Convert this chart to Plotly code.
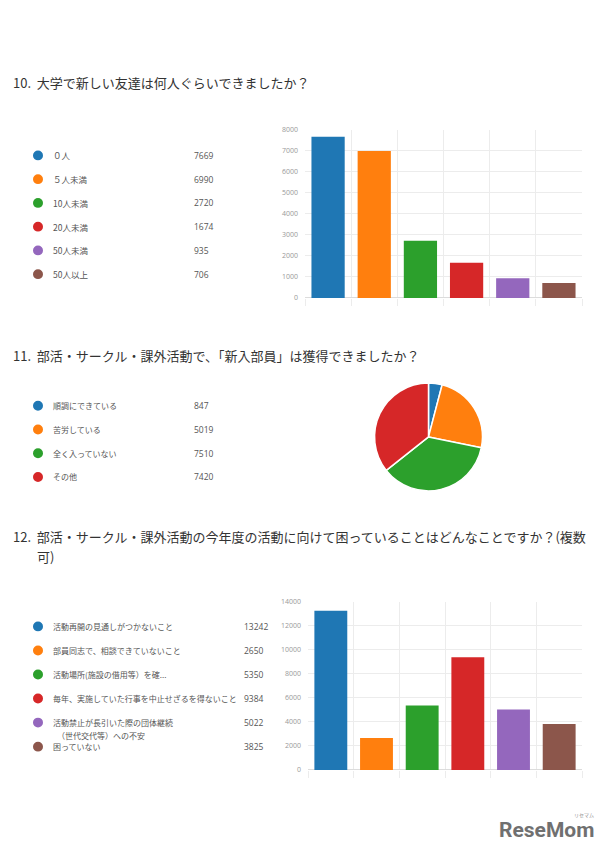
import plotly.graph_objects as go

W, H = 608, 858
def X(px): return px / W
def Y(py): return 1 - py / H

COLORS = ["#1f77b4", "#ff7f0e", "#2ca02c", "#d62728", "#9467bd", "#8c564b"]
FONT = "Noto Sans CJK JP"

# ---- data ----
q10_title = "10.  大学で新しい友達は何人ぐらいできましたか？"
q10_cats = ["０人", "５人未満", "10人未満", "20人未満", "50人未満", "50人以上"]
q10_vals = [7669, 6990, 2720, 1674, 935, 706]

q11_title = "11.  部活・サークル・課外活動で、「新入部員」は獲得できましたか？"
q11_cats = ["順調にできている", "苦労している", "全く入っていない", "その他"]
q11_vals = [847, 5019, 7510, 7420]

q12_title_1 = "12.  部活・サークル・課外活動の今年度の活動に向けて困っていることはどんなことですか？(複数"
q12_title_2 = "可)"
q12_cats = ["活動再開の見通しがつかないこと", "部員同志で、相談できていないこと",
            "活動場所(施設の借用等）を確...", "毎年、実施していた行事を中止せざるを得ないこと",
            "活動禁止が長引いた際の団体継続", "困っていない"]
q12_cat_extra = "（世代交代等）への不安"
q12_vals = [13242, 2650, 5350, 9384, 5022, 3825]

fig = go.Figure()

fig.add_trace(go.Bar(x=q10_cats, y=q10_vals, marker=dict(color=COLORS, line=dict(width=0)),
                     xaxis="x", yaxis="y", showlegend=False))
fig.add_trace(go.Pie(labels=q11_cats, values=q11_vals, sort=False, direction="clockwise",
                     rotation=0, marker=dict(colors=COLORS[:4], line=dict(color="white", width=1.5)),
                     textinfo="none", showlegend=False,
                     domain=dict(x=[X(370), X(487)], y=[Y(491), Y(382)])))
fig.add_trace(go.Bar(x=q12_cats, y=q12_vals, marker=dict(color=COLORS, line=dict(width=0)),
                     xaxis="x2", yaxis="y2", showlegend=False))

axis_common_x = dict(type="category", tickson="boundaries", showgrid=True, gridcolor="#ececec",
                     gridwidth=1, ticks="outside", ticklen=7, tickcolor="#ececec",
                     showticklabels=False, showline=False, zeroline=False, fixedrange=True)
axis_common_y = dict(showgrid=True, gridcolor="#ececec", gridwidth=1, zeroline=True,
                     zerolinecolor="#dcdcdc", zerolinewidth=1, showline=False,
                     tickfont=dict(size=7, color="#999999", family="Open Sans"),
                     tickformat="d", ticks="", ticklabelstandoff=6, fixedrange=True)

annotations = []
shapes = []

def title(text, x, y):
    annotations.append(dict(text=text, x=X(x), y=Y(y), xref="paper", yref="paper",
                            xanchor="left", yanchor="middle", showarrow=False,
                            font=dict(size=13, color="#333333", family=FONT)))

def legend(cats, vals, y0, step, vx, size):
    for i, (c, v) in enumerate(zip(cats, vals)):
        yy = y0 + i * step
        shapes.append(dict(type="circle", xref="paper", yref="paper",
                           x0=X(33), x1=X(43), y0=Y(yy + 5), y1=Y(yy - 5),
                           fillcolor=COLORS[i], line=dict(width=0)))
        annotations.append(dict(text=c, x=X(51), y=Y(yy), xref="paper", yref="paper",
                                xanchor="left", yanchor="middle", showarrow=False,
                                font=dict(size=size, color="#555555", family=FONT)))
        annotations.append(dict(text=str(v), x=X(vx), y=Y(yy), xref="paper", yref="paper",
                                xanchor="left", yanchor="middle", showarrow=False,
                                font=dict(size=8.5, color="#555555", family="Open Sans")))

title(q10_title, 11, 78)
title(q11_title, 11, 354)
title(q12_title_1, 11, 537)
title(q12_title_2, 35, 557)

legend(q10_cats, q10_vals, 152, 24, 192, 8.5)
legend(q11_cats, q11_vals, 405, 24, 192, 8)
legend(q12_cats, q12_vals, 628, 24.3, 242, 8)
annotations.append(dict(text=q12_cat_extra, x=X(55), y=Y(738), xref="paper", yref="paper",
                        xanchor="left", yanchor="middle", showarrow=False,
                        font=dict(size=8, color="#555555", family=FONT)))

# logo
annotations.append(dict(text="<b>ReseMom</b>", x=X(546), y=Y(834), xref="paper", yref="paper",
                        xanchor="center", yanchor="middle", showarrow=False,
                        font=dict(size=21, color="#707070", family="Roboto")))
annotations.append(dict(text="リセマム", x=X(584), y=Y(819), xref="paper", yref="paper",
                        xanchor="center", yanchor="middle", showarrow=False,
                        font=dict(size=5, color="#909090", family=FONT)))

fig.update_layout(
    width=W, height=H, margin=dict(l=0, r=0, t=0, b=0),
    paper_bgcolor="white", plot_bgcolor="white",
    bargap=0.28,
    xaxis=dict(domain=[X(305), X(582)], anchor="y", **axis_common_x),
    yaxis=dict(domain=[Y(296), Y(126)], anchor="x", range=[0, 8000], dtick=1000, **axis_common_y),
    xaxis2=dict(domain=[X(308), X(582)], anchor="y2", **axis_common_x),
    yaxis2=dict(domain=[Y(773), Y(603)], anchor="x2", range=[0, 14000], dtick=2000, **axis_common_y),
    annotations=annotations, shapes=shapes,
)

fig.write_html("out.html")
